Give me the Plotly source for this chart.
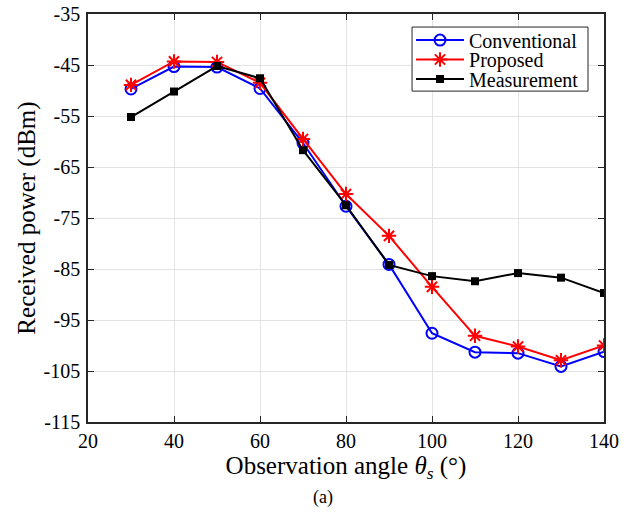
import plotly.graph_objects as go

angles = [30, 40, 50, 60, 70, 80, 90, 100, 110, 120, 130, 140]
conventional = [-49.7, -45.3, -45.4, -49.6, -60.3, -72.7, -84.1, -97.6, -101.3, -101.5, -104.1, -101.2]
proposed = [-48.9, -44.3, -44.4, -48.5, -59.5, -70.3, -78.5, -88.5, -98.1, -100.2, -102.9, -100.0]
measurement = [-55.2, -50.2, -45.2, -47.6, -61.7, -72.5, -84.2, -86.4, -87.4, -85.8, -86.7, -89.7]

y_ticks = [-35, -45, -55, -65, -75, -85, -95, -105, -115]
x_ticks = [20, 40, 60, 80, 100, 120, 140]

font_family = "Liberation Serif, Times New Roman, serif"
legend_font = dict(family=font_family, size=20, color="#000000")

fig = go.Figure()
fig.add_trace(go.Scatter(x=angles, y=conventional, name="Conventional", mode="lines+markers",
                         line=dict(color="#0000ff", width=2),
                         marker=dict(symbol="circle-open", size=11, color="#0000ff", line=dict(width=2)),
                         legend="legend"))
fig.add_trace(go.Scatter(x=angles, y=proposed, name="Proposed", mode="lines+markers",
                         line=dict(color="#ff0000", width=2),
                         marker=dict(symbol="asterisk-open", size=12, color="#ff0000", line=dict(width=2, color="#ff0000")),
                         legend="legend2"))
fig.add_trace(go.Scatter(x=angles, y=measurement, name="Measurement", mode="lines+markers",
                         line=dict(color="#000000", width=2),
                         marker=dict(symbol="square", size=8, color="#000000"),
                         legend="legend3"))

axis_common = dict(showline=True, linecolor="#262626", linewidth=1.5, mirror="ticks",
                   ticks="inside", ticklen=6, tickcolor="#262626", automargin=False,
                   showgrid=True, gridcolor="#e3e3e3", gridwidth=1, zeroline=False,
                   ticklabeloverflow="allow",
                   tickfont=dict(family=font_family, size=20, color="#000000"))

fig.update_xaxes(range=[20, 140], tickvals=x_ticks, ticktext=[str(v) for v in x_ticks],
                 ticklabelstandoff=0,
                 title=dict(text="Observation angle <i>θ<sub>s</sub></i> (°)",
                            font=dict(family=font_family, size=25, color="#000000"), standoff=0),
                 **axis_common)
fig.update_yaxes(range=[-115, -35], tickvals=y_ticks, ticktext=[str(v) for v in y_ticks],
                 ticklabelstandoff=2,
                 title=dict(text="Received power (dBm)",
                            font=dict(family=font_family, size=25, color="#000000"), standoff=1),
                 **axis_common)

# legend frame
fig.add_shape(type="rect", xref="paper", yref="paper", x0=0.628, x1=0.969, y0=0.811, y1=0.968,
              fillcolor="white", line=dict(color="#262626", width=1), layer="above")

fig.add_annotation(text="(a)", xref="paper", yref="paper", x=0.455, y=-0.155, yanchor="top",
                   showarrow=False, font=dict(family=font_family, size=18, color="#000000"))

leg_common = dict(x=0.626, xanchor="left", yanchor="middle", bgcolor="rgba(0,0,0,0)",
                  borderwidth=0, font=legend_font, itemwidth=48)

fig.update_layout(
    width=637, height=530,
    margin=dict(l=88, r=33, t=14, b=108),
    paper_bgcolor="white", plot_bgcolor="white",
    font=dict(family=font_family, color="#000000"),
    legend=dict(y=0.936, **leg_common),
    legend2=dict(y=0.8885, **leg_common),
    legend3=dict(y=0.8407, **leg_common),
    showlegend=True,
)

fig.write_html("out.html", config={"displayModeBar": False},
               post_script="document.body.style.margin='0px';")
